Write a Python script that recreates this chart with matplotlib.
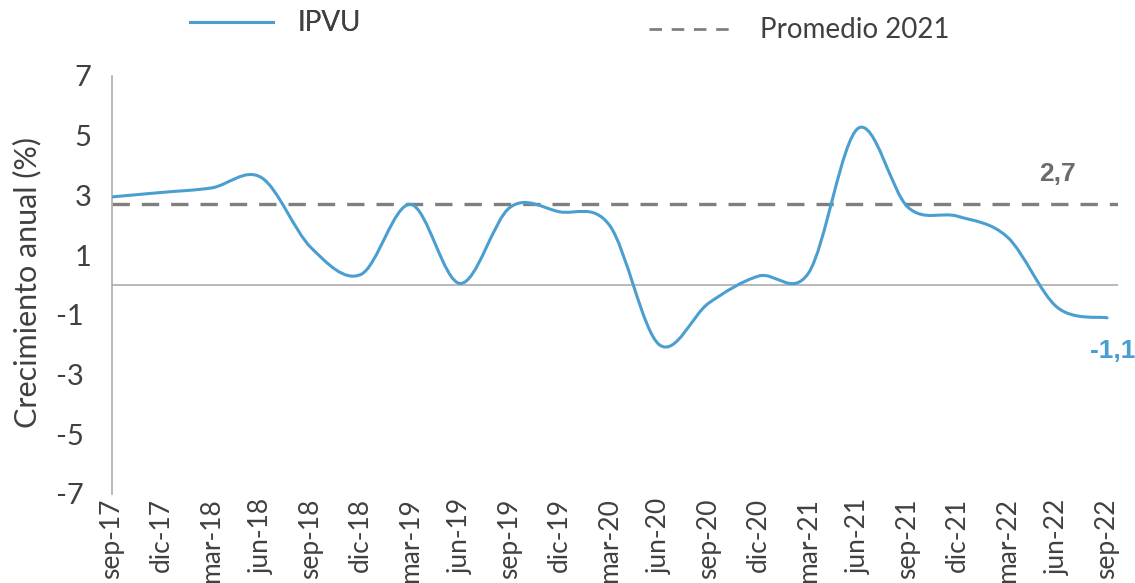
import matplotlib
matplotlib.use("Agg")
import matplotlib.pyplot as plt
from matplotlib.path import Path
from matplotlib.patches import PathPatch
from matplotlib.lines import Line2D
import numpy as np

# Quarterly annual growth of IPVU (%)
quarters = ["sep-17", "dic-17", "mar-18", "jun-18", "sep-18", "dic-18", "mar-19",
            "jun-19", "sep-19", "dic-19", "mar-20", "jun-20", "sep-20", "dic-20",
            "mar-21", "jun-21", "sep-21", "dic-21", "mar-22", "jun-22", "sep-22"]
ipvu = [2.95, 3.1, 3.25, 3.6, 1.25, 0.35, 2.7,
        0.05, 2.6, 2.45, 2.0, -2.0, -0.6, 0.3,
        0.4, 5.25, 2.6, 2.3, 1.6, -0.75, -1.1]
promedio_2021 = 2.7
yticks = [-7, -5, -3, -1, 1, 3, 5, 7]

BLUE = "#4a9fd0"
GREY = "#7f7f7f"
TEXT = "#404040"

plt.rcParams["font.family"] = ["Lato", "DejaVu Sans"]
plt.rcParams["axes.unicode_minus"] = False


def smooth_path(xs, ys):
    """Catmull-Rom style smoothed path (like Excel's smoothed line)."""
    pts = np.column_stack([xs, ys])
    ext = np.vstack([pts[0], pts, pts[-1]])
    verts = [pts[0]]
    codes = [Path.MOVETO]
    for i in range(1, len(ext) - 2):
        p0, p1, p2, p3 = ext[i - 1], ext[i], ext[i + 1], ext[i + 2]
        c1 = p1 + (p2 - p0) / 6.0
        c2 = p2 - (p3 - p1) / 6.0
        verts += [c1, c2, p2]
        codes += [Path.CURVE4] * 3
    return Path(verts, codes)


fig = plt.figure(figsize=(11.35, 5.83), dpi=100)
ax = fig.add_axes([0.0987, 0.1527, 0.8863, 0.717])

x = np.arange(len(quarters))
patch = PathPatch(smooth_path(x, ipvu), facecolor="none", edgecolor=BLUE,
                  lw=2.2, capstyle="round", zorder=3)
ax.add_patch(patch)

ax.axhline(0, color="#a6a6a6", lw=1.1, zorder=1)
ax.axhline(promedio_2021, color=GREY, lw=2.4, dashes=(5.2, 3.6), zorder=2)

ax.set_xlim(0, 20.22)
ax.set_ylim(-7, 7)
ax.set_yticks(yticks)
# negative labels sit a little further left, as in the original format
ax.set_yticklabels([f"{v} " if v < 0 else f"{v}" for v in yticks])
ax.set_xticks(x)
ax.set_xticklabels(quarters, rotation=90, va="top", ha="center")
ax.tick_params(axis="both", length=0, colors=TEXT)
ax.tick_params(axis="y", labelsize=21, pad=15)
ax.tick_params(axis="x", labelsize=19, pad=3)
for s in ["top", "right", "bottom"]:
    ax.spines[s].set_visible(False)
ax.spines["left"].set_color("#a6a6a6")
ax.spines["left"].set_linewidth(1.1)

fig.text(0.024, 0.515, "Crecimiento anual (%)", rotation=90, va="center",
         ha="center", fontsize=22, color=TEXT)

ax.text(19.0, 3.7, "2,7", color="#6b6b6b", fontsize=19, fontweight="bold",
        family="Liberation Sans", ha="center", va="center")
ax.text(20.12, -2.2, "-1,1", color=BLUE, fontsize=19, fontweight="bold",
        family="Liberation Sans", ha="center", va="center", clip_on=False)

leg1 = fig.legend([Line2D([], [], color=BLUE, lw=2.2)], ["IPVU"],
                  loc="center left", bbox_to_anchor=(0.145, 0.960),
                  frameon=False, fontsize=20, handlelength=3.0,
                  handletextpad=0.9, labelcolor=TEXT)
fig.add_artist(leg1)
fig.legend([Line2D([], [], color=GREY, lw=2.0, dashes=(4.5, 3.5))],
           ["Promedio 2021"], loc="center left",
           bbox_to_anchor=(0.550, 0.948), frameon=False, fontsize=20,
           handlelength=3.0, handletextpad=1.0, labelcolor=TEXT)

fig.savefig("out.png", dpi=100)
